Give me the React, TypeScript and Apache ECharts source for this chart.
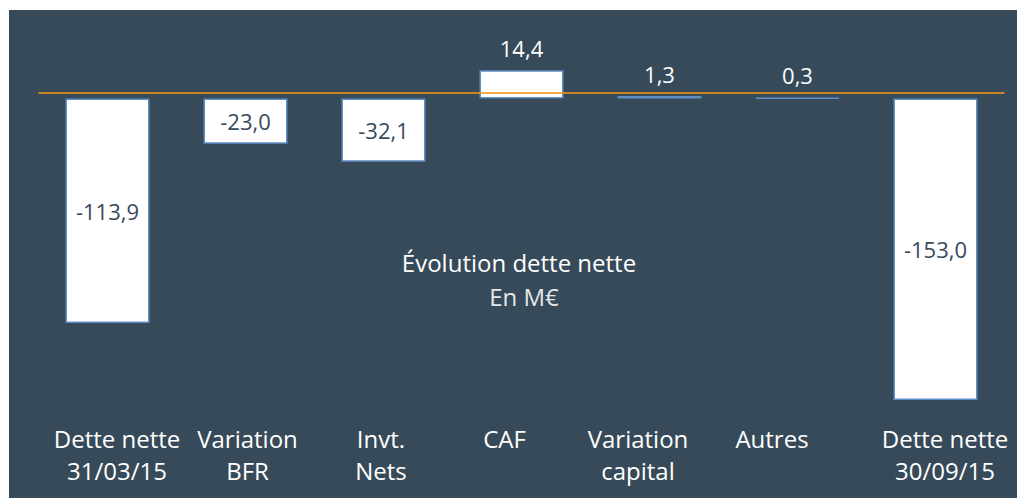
import React, { useEffect, useRef } from "react";
import * as echarts from "echarts";

// ---- Data ----
const categories: string[] = [
  "Dette nette\n31/03/15",
  "Variation\nBFR",
  "Invt.\nNets",
  "CAF",
  "Variation\ncapital",
  "Autres",
  "Dette nette\n30/09/15",
];
const values: number[] = [-113.9, -23.0, -32.1, 14.4, 1.3, 0.3, -153.0];
const referenceLevel: number[] = [2.8];
const titleText = "Évolution dette nette";
const subtitleText = "En M€";
const yMin = -160;
const yMax = 20;

// ---- Layout / style (not data) ----
const FONT = "Open Sans";
const BG = "#364a59";
const labelShift: number[] = [9.5, 2, -2.5, -17, -21.5, -25.5, 9.5];

const fmt = (v: number) => v.toFixed(1).replace(".", ",");

function buildOption(): any {
  const rich: Record<string, any> = {};
  labelShift.forEach((d, i) => {
    rich["s" + i] = {
      fontFamily: FONT,
      fontSize: 24,
      lineHeight: 32,
      color: "#ffffff",
      padding: d >= 0 ? [0, 0, 0, 2 * d] : [0, -2 * d, 0, 0],
    };
  });

  return {
    animation: false,
    backgroundColor: BG,
    grid: { left: 29.5, right: 12.5, top: 49.1, bottom: 84.3, containLabel: false },
    graphic: [
      {
        type: "text",
        x: 510,
        y: 252.6,
        style: {
          text: titleText,
          fill: "#ffffff",
          font: `24px "${FONT}"`,
          align: "center",
          verticalAlign: "middle",
        },
      },
      {
        type: "text",
        x: 515,
        y: 286,
        style: {
          text: subtitleText,
          fill: "#e4e8ea",
          font: `24px "${FONT}"`,
          align: "center",
          verticalAlign: "middle",
        },
      },
    ],
    xAxis: {
      type: "category",
      data: categories,
      axisLine: { show: false, onZero: false },
      axisTick: { show: false },
      splitLine: { show: false },
      axisLabel: {
        interval: 0,
        margin: 8.3,
        fontFamily: FONT,
        fontSize: 24,
        lineHeight: 32,
        color: "#ffffff",
        formatter: (value: string, index: number) =>
          value
            .split("\n")
            .map((l) => `{s${index}|${l}}`)
            .join("\n"),
        rich,
      },
    },
    yAxis: {
      type: "value",
      min: yMin,
      max: yMax,
      show: false,
      splitLine: { show: false },
    },
    series: [
      {
        type: "bar",
        barWidth: 84,
        data: values.map((v) => ({
          value: v,
          label:
            v < 0
              ? { position: "inside", color: "#37495a" }
              : { position: "top", distance: 11, color: "#ffffff" },
        })),
        itemStyle: {
          color: "#ffffff",
          borderColor: "#5f8ec6",
          borderWidth: 1.5,
        },
        label: {
          show: true,
          fontFamily: FONT,
          fontSize: 22,
          formatter: (p: any) => fmt(p.value),
        },
        markLine: {
          silent: true,
          symbol: "none",
          label: { show: false },
          lineStyle: {
            color: "rgb(240,150,20)",
            opacity: 0.78,
            width: 2,
            type: "solid",
          },
          data: referenceLevel.map((y) => ({ yAxis: y })),
        },
      },
    ],
  };
}

export default function App() {
  const ref = useRef<HTMLDivElement>(null);
  useEffect(() => {
    if (!ref.current) return;
    const chart = echarts.init(ref.current, undefined, { renderer: "svg" });
    chart.setOption(buildOption());
    return () => chart.dispose();
  }, []);
  return (
    <div style={{ position: "fixed", left: 0, top: 0, width: 1017, height: 498, background: "#ffffff" }}>
      <div
        ref={ref}
        style={{ position: "absolute", left: 9, top: 10, width: 1008, height: 488 }}
      />
    </div>
  );
}
